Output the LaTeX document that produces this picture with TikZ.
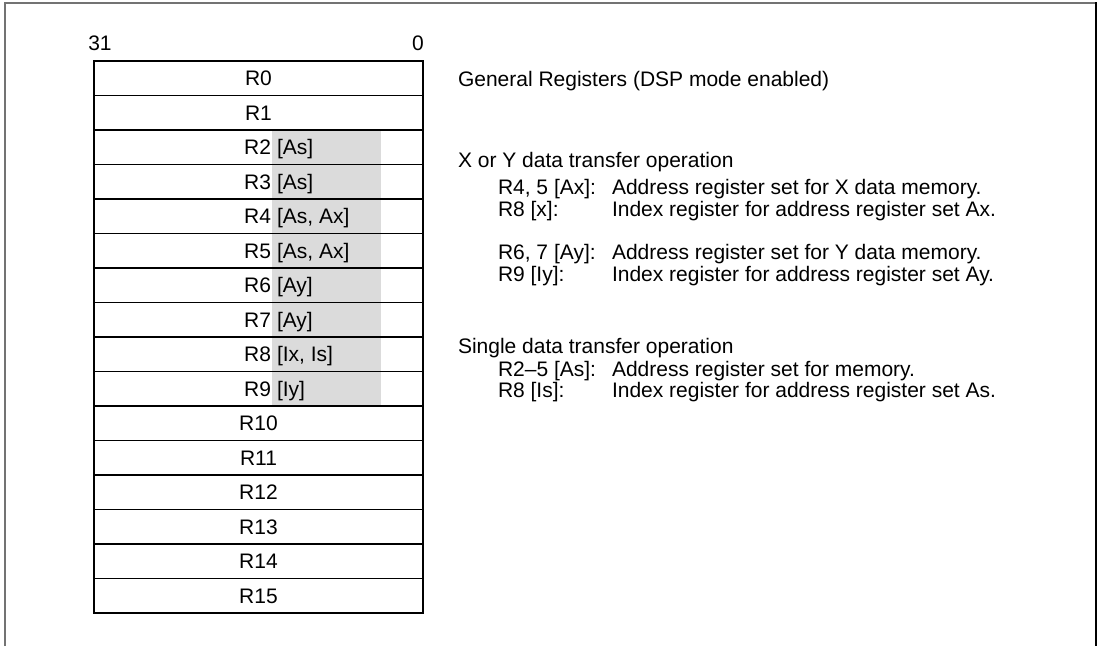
\documentclass[tikz,border=0pt]{standalone}
\usepackage{fontspec}
\setmainfont{Liberation Sans}
\begin{document}
\begin{tikzpicture}[x=1pt,y=-1pt,
  font=\fontsize{21}{25}\selectfont,
  rowbox/.style={draw=black, line width=1.2pt, minimum width=329pt, minimum height=34.5pt, inner sep=0pt, outer sep=0pt},
  txt/.style={inner sep=0pt, outer sep=0pt, anchor=base west},
  rtxt/.style={inner sep=0pt, outer sep=0pt, anchor=base east},
  shadefill/.style={fill=black!14}]
\useasboundingbox (0,0) rectangle (1100,646);
% frame
\draw[black!55, line width=1.2pt] (5,646) -- (5,3) -- (1096,3);
\draw[black, line width=2.2pt] (1096,2) -- (1096,646);
% shading
\fill[shadefill] (272,130) rectangle (381,406);
% rows
\foreach \i in {0,...,15}{
  \node[rowbox] (r\i) at (258.5, {61+34.5*\i+17.25}) {};
}
\foreach \i in {0,1,10,11,12,13,14,15}{
  \node[inner sep=0pt, anchor=base] at ([yshift=-7.5pt]r\i.center) {R\i};
}
\foreach \i/\t in {2/{[As]},3/{[As]},4/{[As, Ax]},5/{[As, Ax]},6/{[Ay]},7/{[Ay]},8/{[Ix, Is]},9/{[Iy]}}{
  \path (r\i.center) ++(12.5,7.5) node[rtxt] (n\i) {R\i};
  \path (r\i.center) ++(18.5,7.5) node[txt] (b\i) {\t};
}
% bit labels
\node[inner sep=0pt, anchor=base] (b31) at (100,50.5) {31};
\node[inner sep=0pt, anchor=base] (b0) at (418,50.5) {0};
% descriptions
\node[txt] (title) at (458,86.5) {General Registers (DSP mode enabled)};
\node[txt] (xy) at (458,167.5) {X or Y data transfer operation};
\node[txt] (l1) at (498,194.5) {R4, 5 [Ax]:};
\node[txt] (d1) at (612,194.5) {Address register set for X data memory.};
\node[txt] (l2) at (498,216.5) {R8 [x]:};
\node[txt] (d2) at (612,216.5) {Index register for address register set Ax.};
\node[txt] (l3) at (498,259.5) {R6, 7 [Ay]:};
\node[txt] (d3) at (612,259.5) {Address register set for Y data memory.};
\node[txt] (l4) at (498,281.5) {R9 [Iy]:};
\node[txt] (d4) at (612,281.5) {Index register for address register set Ay.};
\node[txt] (sg) at (458,353.5) {Single data transfer operation};
\node[txt] (l5) at (498,376.5) {R2–5 [As]:};
\node[txt] (d5) at (612,376.5) {Address register set for memory.};
\node[txt] (l6) at (498,397.5) {R8 [Is]:};
\node[txt] (d6) at (612,397.5) {Index register for address register set As.};
\end{tikzpicture}
\end{document}
